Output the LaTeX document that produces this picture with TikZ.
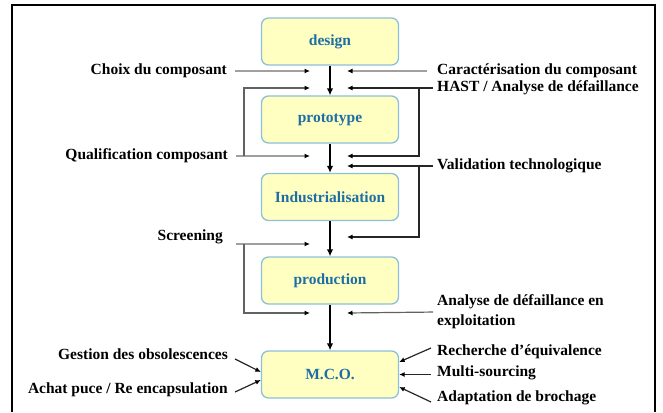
\documentclass[tikz,border=0pt]{standalone}
\usepackage{fontspec}
\setmainfont{Liberation Serif}
\usetikzlibrary{arrows.meta}
\definecolor{boxfill}{HTML}{FFFFC2}
\definecolor{boxdraw}{HTML}{8CC0DA}
\definecolor{boxtext}{HTML}{1E6EA6}
\definecolor{lgray}{HTML}{A0A0A0}
\definecolor{dgray}{HTML}{626262}
\begin{document}
\begin{tikzpicture}[x=1pt,y=-1pt,
 stage/.style={draw=boxdraw, line width=1.3pt, fill=boxfill, rounded corners=7pt,
   minimum width=137pt, minimum height=47pt, inner sep=0pt,
   font=\fontsize{15.5}{17}\selectfont\bfseries, text=boxtext},
 lbl/.style={font=\fontsize{15.5}{20}\selectfont\bfseries, inner sep=0pt, align=left},
 tip/.style={-{Latex[length=5.5pt,width=5pt,color=black]}},
 lg/.style={tip, draw=lgray, line width=1.2pt},
 dg/.style={tip, draw=dgray, line width=1.2pt},
 bk/.style={tip, draw=black!85, line width=1.2pt},
 flow/.style={-{Latex[length=7pt,width=6.5pt]}, line width=2.2pt},
]
\useasboundingbox (0,0) rectangle (663,412);
\draw[line width=2pt] (12,412) -- (12,5) -- (655,5) -- (655,412);

% stages
\node[stage] (design) at (330,41.5) {design};
\node[stage] (proto) at (330,119.5) {prototype};
\node[stage] (indus) at (330,197) {Industrialisation};
\node[stage] (prod) at (330,280.5) {production};
\node[stage] (mco) at (330,374.5) {M.C.O.};

\draw[flow] (design) -- (proto);
\draw[flow] (proto) -- (indus);
\draw[flow] (indus) -- (prod);
\draw[flow] (prod) -- (mco);

% arrow targets
\coordinate (l1) at (310,71);
\coordinate (r1) at (347,71);
\coordinate (l2) at (310,88);
\coordinate (r2) at (347,88);
\coordinate (l3) at (310,156);
\coordinate (r3) at (347,156);
\coordinate (r4) at (347,166);
\coordinate (r5) at (347,237);
\coordinate (l5) at (310,244);
\coordinate (l6) at (310,313);
\coordinate (r6) at (347,313);

% labels
\node[lbl, anchor=east] (choix) at (227,71) {Choix du composant};
\node[lbl, anchor=west] (carac) at (437,71) {Caractérisation du composant};
\node[lbl, anchor=west] (hast) at (437,88) {HAST / Analyse de défaillance};
\node[lbl, anchor=east] (qualif) at (228,156) {Qualification composant};
\node[lbl, anchor=west] (valid) at (437,166) {Validation technologique};
\node[lbl, anchor=east] (screen) at (223,237) {Screening};
\node[lbl, anchor=west] (analyse) at (437,312) {Analyse de défaillance en\\exploitation};
\node[lbl, anchor=east] (gestion) at (228,354) {Gestion des obsolescences};
\node[lbl, anchor=east] (achat) at (228,390) {Achat puce / Re encapsulation};
\node[lbl, anchor=west] (recher) at (437,352) {Recherche d'équivalence};
\node[lbl, anchor=west] (multi) at (437,373) {Multi-sourcing};
\node[lbl, anchor=west] (adapt) at (437,398) {Adaptation de brochage};

% inputs before prototype
\draw[lg, shorten <=8pt] (choix.east) -- (l1);
\draw[lg, shorten <=10pt] (carac.west) -- (r1);
\draw[bk, shorten <=4pt] (hast.west) -- (r2);
\coordinate (hr) at (419,88);
\draw[bk] (hr) |- (r3);

% inputs before industrialisation
\draw[lg, shorten <=8pt] (qualif.east) -- (l3);
\coordinate (ql) at (244,156);
\draw[dg] (ql) |- (l2);
\draw[bk, shorten <=4pt] (valid.west) -- (r4);
\coordinate (vr) at (419,166);
\draw[bk] (vr) |- (r5);

% inputs before production
\coordinate (s0) at (236,244);
\draw[lg] (s0) -- (l5);
\coordinate (sv) at (244,244);
\draw[dg] (sv) |- (l6);

% inputs before MCO
\draw[dg, shorten <=4pt] (analyse.west) -- (r6);

% MCO inputs
\coordinate (g0) at (235,359);
\coordinate (a0) at (235,392);
\coordinate (re0) at (431,348);
\coordinate (m0) at (431,374.5);
\coordinate (ad0) at (431,402);
\draw[bk] (g0) -- ([yshift=2.5pt]mco.west);
\draw[bk] (a0) -- ([yshift=-5.5pt]mco.west);
\draw[bk] (re0) -- ([yshift=12.5pt]mco.east);
\draw[bk] (m0) -- (mco.east);
\draw[bk] (ad0) -- ([yshift=-12.5pt]mco.east);
\end{tikzpicture}
\end{document}
